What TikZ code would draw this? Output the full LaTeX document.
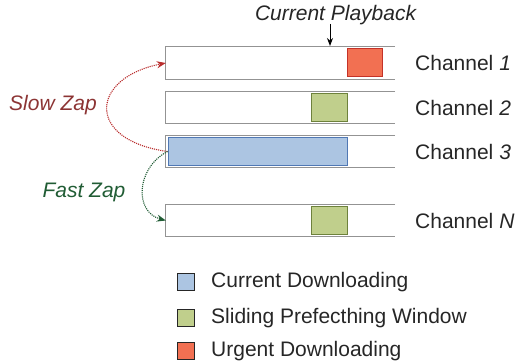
\documentclass[tikz,border=0pt]{standalone}
\usepackage{fontspec}
\setmainfont{Liberation Sans}
\usetikzlibrary{arrows.meta}

\begin{document}
\begin{tikzpicture}[x=1pt,y=-1pt,
    every node/.style={font=\fontsize{21}{25}\selectfont, inner sep=0pt, text=black!85},
    row/.style={minimum width=229pt, minimum height=32pt},
    rowline/.style={draw=gray!85!white, line width=1.2pt},
    seg/.style={draw, line width=1pt, minimum height=28pt},
    key/.style={draw, line width=1pt, minimum size=17pt},
    zap/.style={densely dotted, line width=1.1pt, -{Stealth[length=9pt,width=7pt]}}]
    \definecolor{urgentfill}{RGB}{242,112,82}
    \definecolor{urgentline}{RGB}{196,50,40}
    \definecolor{prefill}{RGB}{192,207,140}
    \definecolor{preline}{RGB}{110,130,60}
    \definecolor{curfill}{RGB}{172,197,226}
    \definecolor{curline}{RGB}{80,120,180}
    \definecolor{slowcolor}{RGB}{140,52,52}
    \definecolor{slowarrow}{RGB}{185,45,45}
    \definecolor{fastcolor}{RGB}{32,92,52}

    \useasboundingbox (0,0) rectangle (517,363);

    % Kanaele
    \node[row] (ch1) at (280.5,63) {};
    \node[row] (ch2) at (280.5,107.5) {};
    \node[row] (ch3) at (280.5,151.5) {};
    \node[row] (chN) at (280.5,220.5) {};
    \foreach \c in {ch1,ch2,ch3,chN}
        \draw[rowline] (\c.north east) -- (\c.north west) -- (\c.south west) -- (\c.south east);

    \node[anchor=west] (lab1) at (415,63) {Channel \textit{1}};
    \node[anchor=west] (lab2) at (415,107.5) {Channel \textit{2}};
    \node[anchor=west] (lab3) at (415,151.5) {Channel \textit{3}};
    \node[anchor=west] (labN) at (415,220.5) {Channel \textit{N}};

    % Fenster
    \node[seg, fill=urgentfill, draw=urgentline, minimum width=35pt] (urg1) at (364.5,63) {};
    \node[seg, fill=prefill, draw=preline, minimum width=36pt] (pre2) at (329,107.5) {};
    \node[seg, fill=curfill, draw=curline, minimum width=179pt] (cur3) at (257.5,151.5) {};
    \node[seg, fill=prefill, draw=preline, minimum width=36pt] (preN) at (329,220.5) {};

    % Wiedergabe
    \node (play) at (336,15) {\textit{Current Playback}};
    \draw[line width=1pt, -{Stealth[length=8pt,width=6pt]}] (330,24) -- (330,46);

    % Zapping
    \node (slow) at (53,105) {\textcolor{slowcolor}{\textit{Slow Zap}}};
    \node (fast) at (84,192) {\textcolor{fastcolor}{\textit{Fast Zap}}};
    \draw[zap, slowarrow] (cur3.west) .. controls (85,140) and (90,78) .. (ch1.west);
    \draw[zap, fastcolor] (cur3.west) .. controls (136,168) and (134,212) .. (chN.west);

    % Legende
    \node[key, fill=curfill, draw=gray!30!black] (k1) at (185.5,282) {};
    \node[key, fill=prefill, draw=gray!30!black] (k2) at (185.5,318) {};
    \node[key, fill=urgentfill, draw=gray!30!black] (k3) at (185.5,351) {};
    \node[anchor=west] (t1) at (211,282) {Current Downloading};
    \node[anchor=west] (t2) at (211,318) {Sliding Prefecthing Window};
    \node[anchor=west] (t3) at (211,351) {Urgent Downloading};
\end{tikzpicture}
\end{document}
